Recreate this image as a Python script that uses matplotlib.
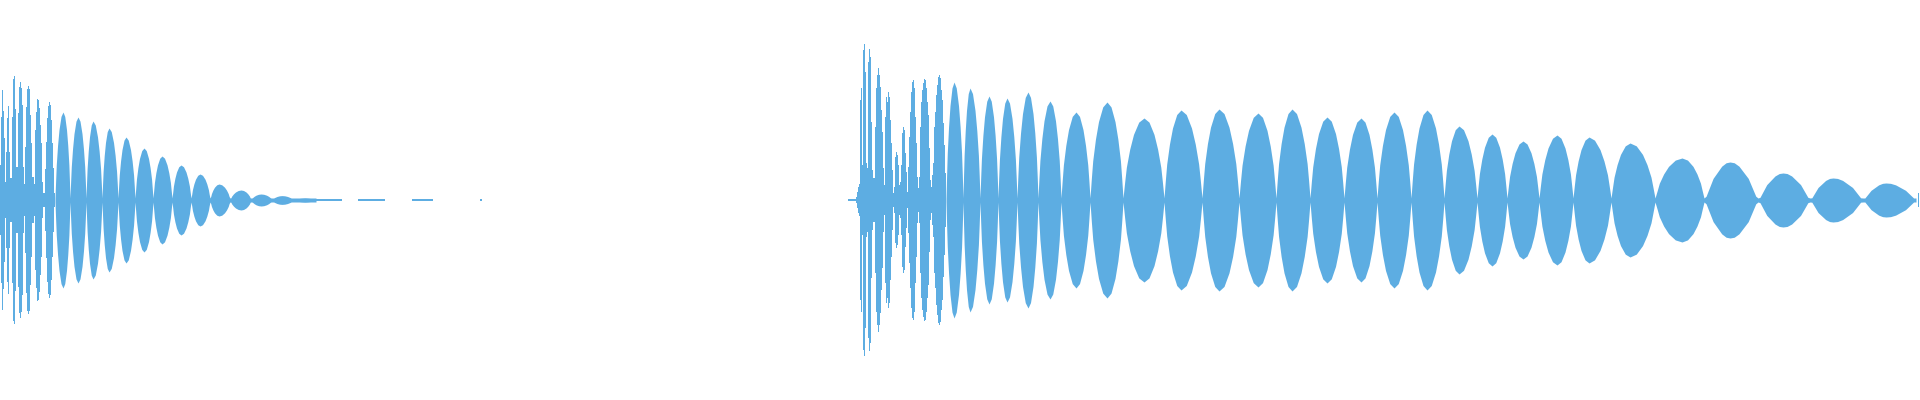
import numpy as np
import matplotlib
matplotlib.use("Agg")
import matplotlib.pyplot as plt

# waveform overview, two takes; level scale is 0..200 (full scale)
WAVE_COLOR = "#5dade2"
FULL_SCALE = 200

# --- per-column peaks of the noisy attack, take 1 (starts at bin 0)
left_cols_start = 0
left_cols = [35, 83, 110, 89, 62, 18, 48, 82, 94, 48, 22, 22, 83, 121, 124, 91,
             33, 33, 87, 113, 118, 112, 95, 33, 16, 53, 93, 111, 114, 111, 85, 57,
             23, 23, 16, 70, 88, 101, 100, 92, 75, 57, 18, 7, 7, 31, 58, 82,
             94, 98, 95, 80, 57, 32, 7, 7]

# --- beat lobes of take 1: node where each starts, peak bin, peak level
left_lobe_start = [55, 70, 86, 102, 118, 135, 153, 172, 191, 210, 230, 251, 272, 293]
left_lobe_peak_x = [63, 78, 93, 109, 126, 144, 162, 181, 200, 219, 241, 261, 282, 305]
left_lobe_peak = [88, 83, 79, 72, 63, 52, 44, 35, 26, 16, 10, 6, 4.4, 2.3]
left_lobe_end = 316

# near-silent tail of take 1 (start bin, end bin)
tail_dashes = [(316, 342), (358, 385), (412, 433), (480, 482)]

# --- take 2: lead-in, then per-column attack starting at bin 856
lead_in = (848, 856)
right_cols_start = 856
right_cols = [3, 8, 13, 16, 100, 112, 35, 150, 156, 128, 37, 32, 138, 151, 143, 78,
              30, 22, 22, 73, 112, 125, 132, 125, 113, 90, 68, 32, 15, 83, 103, 98,
              108, 103, 80, 57, 30, 7, 13, 43, 48, 45, 35, 15, 18, 35, 67, 73,
              70, 47, 28, 8, 33, 63, 88, 108, 118, 120, 112, 83, 57, 23, 12, 23,
              73, 98, 110, 117, 121, 120, 112, 98, 85, 52, 20, 13, 25, 37, 73, 88,
              105, 115, 123, 125, 122, 110, 100, 77, 55, 27, 7]

right_lobe_start = [946, 963, 980, 998, 1017, 1038, 1061, 1090, 1123, 1164,
                    1202, 1239, 1276, 1310, 1344, 1377, 1411, 1444, 1477, 1507,
                    1539, 1573, 1611, 1655, 1704, 1758, 1810, 1863]
right_lobe_peak_x = [954, 970, 989, 1007, 1028, 1050, 1076, 1107, 1144, 1181,
                     1219, 1258, 1292, 1327, 1361, 1394, 1427, 1459, 1492, 1523,
                     1557, 1589, 1630, 1682, 1730, 1783, 1833, 1886]
right_lobe_peak = [118, 112, 104, 102, 108, 99, 88, 98, 82, 90,
                   91, 87, 91, 83, 82, 88, 90, 74, 66, 59,
                   65, 63, 57, 42, 38, 27, 22, 17]
right_lobe_end = 1916
end_click = (1918, 7)

# lobe outlines (fraction of the way to the peak -> fraction of peak)
round_rel = [0.0, 0.08, 0.16, 0.32, 0.5, 0.75, 1.0]
round_frac = [0.0, 0.22, 0.40, 0.62, 0.80, 0.95, 1.0]
# the late, slow beats have straighter flanks
late_rel = [0.0, 0.08, 0.35, 0.68, 0.85, 1.0]
late_frac = [0.0, 0.10, 0.57, 0.89, 0.98, 1.0]
LATE_FROM = 1704
NECK = 2.0


def lobe_outline(starts, peaks_x, peaks, end):
    nodes = list(starts) + [end]
    xs, ys = [], []
    for i in range(len(starts)):
        a, b, p, h = nodes[i], nodes[i + 1], peaks_x[i], peaks[i]
        rel, frac = (late_rel, late_frac) if a >= LATE_FROM else (round_rel, round_frac)
        for r, f in zip(rel, frac):
            xs.append(a + r * (p - a))
            ys.append(max(NECK, f * h))
        for r, f in zip(rel[::-1][1:], frac[::-1][1:]):
            xs.append(b - r * (b - p))
            ys.append(max(NECK, f * h))
    return np.array(xs), np.array(ys)


fig = plt.figure(figsize=(19.2, 4), dpi=100)
ax = fig.add_axes([0, 0, 1, 1])

# attacks, column by column
for start, cols in [(left_cols_start, left_cols), (right_cols_start, right_cols)]:
    x = np.arange(start, start + len(cols))
    y = np.array(cols, dtype=float)
    ax.fill_between(x, -y, y, step="mid", color=WAVE_COLOR, lw=0)

# beat lobes
for s, px, pk, e in [(left_lobe_start, left_lobe_peak_x, left_lobe_peak, left_lobe_end),
                     (right_lobe_start, right_lobe_peak_x, right_lobe_peak, right_lobe_end)]:
    x, y = lobe_outline(s, px, pk, e)
    ax.fill_between(x, -y, y, color=WAVE_COLOR, lw=0)

# silence / near-silence
for a, b in tail_dashes + [lead_in]:
    ax.fill_between([a, b], [-0.6, -0.6], [0.6, 0.6], color=WAVE_COLOR, lw=0)
ax.fill_between([end_click[0] - 0.5, end_click[0] + 0.5],
                [-end_click[1]] * 2, [end_click[1]] * 2, color=WAVE_COLOR, lw=0)

ax.set_xlim(0, 1920)
ax.set_ylim(-FULL_SCALE, FULL_SCALE)
ax.axis("off")
fig.savefig("out.png", dpi=100, facecolor="white")
